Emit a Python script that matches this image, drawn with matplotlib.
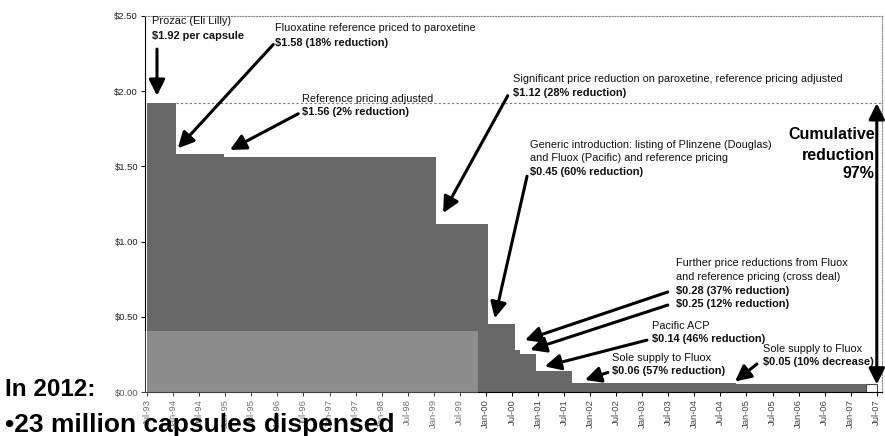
import matplotlib
matplotlib.use('Agg')
import matplotlib.pyplot as plt
from matplotlib.patches import Rectangle

plt.rcParams['font.family'] = ['Liberation Sans', 'DejaVu Sans']

tick_labels = ['Jul-93', 'Jan-94', 'Jul-94', 'Jan-95', 'Jul-95', 'Jan-96', 'Jul-96',
               'Jan-97', 'Jul-97', 'Jan-98', 'Jul-98', 'Jan-99', 'Jul-99', 'Jan-00',
               'Jul-00', 'Jan-01', 'Jul-01', 'Jan-02', 'Jul-02', 'Jan-03', 'Jul-03',
               'Jan-04', 'Jul-04', 'Jan-05', 'Jul-05', 'Jan-06', 'Jul-06', 'Jan-07',
               'Jul-07']
tick_pos = [1993.5 + 0.5 * i for i in range(len(tick_labels))]

# price per capsule and the date (decimal year) each price started
step_start = [1993.5, 1994.05, 1994.97, 1999.05, 2000.05, 2000.55, 2000.65,
              2000.97, 2001.65, 2004.8]
step_end = 2007.3
price = [1.92, 1.58, 1.56, 1.12, 0.45, 0.28, 0.25, 0.14, 0.06, 0.05]
yticks = [0, 0.5, 1.0, 1.5, 2.0, 2.5]

BAR = '#686868'

fig = plt.figure(figsize=(8.85, 4.36), dpi=100)
ax = fig.add_axes([145 / 885, 1 - 392 / 436, 737 / 885, 376 / 436])

widths = [b - a for a, b in zip(step_start, step_start[1:] + [step_end])]
ax.bar(step_start, price, width=widths, align='edge', color=BAR, linewidth=0)
# 2007 box
ax.bar(step_end, price[-1], width=0.2, align='edge', color='white',
       edgecolor='#444444', linewidth=0.8)

# reference line at the original price
ax.plot([step_start[1], 2007.6], [price[0], price[0]], ls=(0, (2, 2)),
        color='#777777', lw=0.8)

ax.set_xlim(1993.46, 2007.6)
ax.set_ylim(0, 2.5)
ax.set_xticks(tick_pos)
ax.set_xticklabels(tick_labels, rotation=90, fontsize=6.8, color='#444444')
ax.set_yticks(yticks)
ax.set_yticklabels(['$%.2f' % v for v in yticks], fontsize=6.8, color='#222222')
ax.tick_params(length=3, width=0.7, pad=2)
for s in ['top', 'right']:
    ax.spines[s].set_linestyle((0, (1, 1.5)))
    ax.spines[s].set_color('#888888')
    ax.spines[s].set_linewidth(0.8)
for s in ['left', 'bottom']:
    ax.spines[s].set_linewidth(0.8)


def arrow(start, tip, both=False):
    style = '<|-|>' if both else '-|>'
    ax.annotate('', xy=tip, xytext=start,
                arrowprops=dict(arrowstyle=style + ',head_length=0.6,head_width=0.3',
                                color='black', lw=2.2, mutation_scale=16,
                                shrinkA=0, shrinkB=0))


def note(x, ys, lines, nbold):
    for i, (y, t) in enumerate(zip(ys, lines)):
        bold = i >= len(lines) - nbold
        ax.text(x, y, t, fontsize=7.9, va='center', ha='left',
                weight='bold' if bold else 'normal', color='#111111')


note(1993.60, [2.465, 2.37], ['Prozac (Eli Lilly)', '$1.92 per capsule'], 1)
arrow((1993.69, 2.28), (1993.69, 1.97))

note(1995.95, [2.42, 2.32], ['Fluoxatine reference priced to paroxetine',
                             '$1.58 (18% reduction)'], 1)
arrow((1995.92, 2.31), (1994.09, 1.62))

note(1996.47, [1.95, 1.86], ['Reference pricing adjusted', '$1.56 (2% reduction)'], 1)
arrow((1996.40, 1.85), (1995.09, 1.61))

note(2000.52, [2.08, 1.99], ['Significant price reduction on paroxetine, reference pricing adjusted',
                             '$1.12 (28% reduction)'], 1)
arrow((2000.42, 1.97), (1999.18, 1.19))

note(2000.85, [1.64, 1.555, 1.46], ['Generic introduction: listing of Plinzene (Douglas)',
                                    'and Fluox (Pacific) and reference pricing',
                                    '$0.45 (60% reduction)'], 1)
arrow((2000.79, 1.435), (2000.17, 0.49))

note(2003.65, [0.857, 0.764, 0.671, 0.585], ['Further price reductions from Fluox',
                                             'and reference pricing (cross deal)',
                                             '$0.28 (37% reduction)',
                                             '$0.25 (12% reduction)'], 2)
arrow((2003.49, 0.665), (2000.75, 0.345))
arrow((2003.49, 0.578), (2000.85, 0.28))

note(2003.19, [0.44, 0.352], ['Pacific ACP', '$0.14 (46% reduction)'], 1)
arrow((2003.09, 0.345), (2001.13, 0.17))

note(2002.42, [0.226, 0.14], ['Sole supply to Fluox', '$0.06 (57% reduction)'], 1)
arrow((2002.34, 0.13), (2001.9, 0.08))

note(2005.31, [0.286, 0.2], ['Sole supply to Fluox', '$0.05 (10% decrease)'], 1)
arrow((2005.2, 0.186), (2004.78, 0.07))

for y, t in zip([1.71, 1.575, 1.45], ['Cumulative', 'reduction', '97%']):
    ax.text(2007.46, y, t, fontsize=11.5, weight='bold', ha='right', va='center')
arrow((2007.50, price[-1]), (2007.50, price[0]), both=True)

# translucent text box over the lower left corner
fig.patches.append(Rectangle((0, 0), 478 / 885, 1 - 331 / 436, transform=fig.transFigure,
                             facecolor='white', alpha=0.25, edgecolor='none', zorder=5))
fig.text(5 / 885, 1 - 396 / 436, 'In 2012:', fontsize=17.5, weight='bold',
         va='baseline', zorder=6)
fig.text(5 / 885, 1 - 432 / 436, '\u202223 million capsules dispensed', fontsize=19,
         weight='bold', va='baseline', zorder=6)

fig.savefig('out.png', dpi=100)
